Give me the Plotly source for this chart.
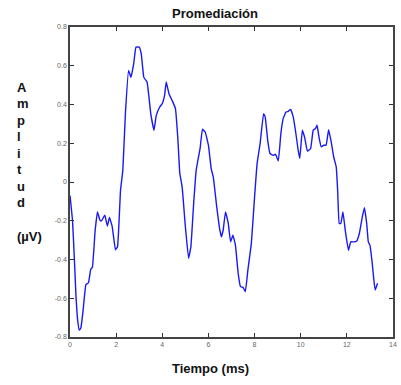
import plotly.graph_objects as go

# Averaged evoked response (time in ms, amplitude in µV)
tiempo_ms = [
    0.00, 0.11, 0.19, 0.26, 0.33, 0.40, 0.47, 0.57, 0.69, 0.80, 0.90, 0.97,
    1.09, 1.19, 1.30, 1.37, 1.51, 1.62, 1.71, 1.83, 1.97, 2.06, 2.19, 2.29,
    2.40, 2.54, 2.64, 2.76, 2.86, 3.00, 3.09, 3.20, 3.34, 3.50, 3.64, 3.74,
    3.89, 4.00, 4.10, 4.17, 4.29, 4.43, 4.57, 4.67, 4.76, 4.86, 5.00, 5.14,
    5.24, 5.36, 5.47, 5.57, 5.64, 5.74, 5.86, 6.00, 6.12, 6.21, 6.36, 6.47,
    6.56, 6.64, 6.74, 6.86, 6.96, 7.06, 7.17, 7.29, 7.39, 7.50, 7.60, 7.71,
    7.86, 8.00, 8.11, 8.24, 8.39, 8.46, 8.57, 8.67, 8.81, 8.91, 9.03, 9.14,
    9.24, 9.36, 9.46, 9.56, 9.67, 9.77, 9.89, 9.96, 10.07, 10.17, 10.29, 10.43,
    10.54, 10.64, 10.71, 10.79, 10.89, 11.00, 11.10, 11.21, 11.31, 11.43, 11.54, 11.60,
    11.67, 11.74, 11.83, 11.93, 12.07, 12.17, 12.29, 12.43, 12.54, 12.67, 12.76, 12.86,
    12.93, 13.00, 13.10, 13.17, 13.23, 13.33,
]
amplitud_uv = [
    -0.07, -0.20, -0.40, -0.59, -0.71, -0.764, -0.754, -0.66, -0.53, -0.52, -0.45, -0.44,
    -0.25, -0.154, -0.197, -0.20, -0.171, -0.228, -0.183, -0.23, -0.35, -0.334, -0.042, 0.06,
    0.35, 0.576, 0.54, 0.61, 0.696, 0.696, 0.66, 0.54, 0.516, 0.353, 0.267, 0.344,
    0.387, 0.405, 0.447, 0.516, 0.456, 0.42, 0.379, 0.233, 0.044, -0.025, -0.23, -0.394,
    -0.334, -0.111, 0.061, 0.129, 0.173, 0.272, 0.258, 0.19, 0.069, 0.026, -0.128, -0.23,
    -0.283, -0.248, -0.154, -0.214, -0.309, -0.274, -0.326, -0.472, -0.54, -0.544, -0.566, -0.455,
    -0.317, -0.077, 0.095, 0.198, 0.353, 0.336, 0.215, 0.147, 0.138, 0.143, 0.109, 0.25,
    0.327, 0.361, 0.365, 0.375, 0.339, 0.267, 0.164, 0.121, 0.267, 0.23, 0.16, 0.173,
    0.267, 0.276, 0.293, 0.233, 0.181, 0.19, 0.19, 0.27, 0.215, 0.129, 0.078, -0.042,
    -0.214, -0.214, -0.154, -0.248, -0.352, -0.309, -0.309, -0.304, -0.266, -0.18, -0.132, -0.214,
    -0.309, -0.326, -0.42, -0.506, -0.558, -0.523,
]

x_ticks = [0, 2, 4, 6, 8, 10, 12, 14]
x_tick_labels = ["0", "2", "4", "6", "8", "10", "12", "14"]
y_ticks = [-0.8, -0.6, -0.4, -0.2, 0, 0.2, 0.4, 0.6, 0.8]
y_tick_labels = ["-0.8", "-0.6", "-0.4", "-0.2", "0", "0.2", "0.4", "0.6", "0.8"]

y_label_lines = ["A", "m", "p", "l", "i", "t", "u", "d", "", "(µV)"]

fig = go.Figure()
fig.add_trace(go.Scatter(
    x=tiempo_ms, y=amplitud_uv, mode="lines",
    line=dict(color="rgb(25,25,245)", width=1.4, shape="spline", smoothing=0.3),
    hoverinfo="skip", showlegend=False,
))

axis_common = dict(
    showline=True, linecolor="#444", linewidth=1.5, mirror="ticks",
    ticks="inside", ticklen=4, tickwidth=1, tickcolor="#333",
    showgrid=False, zeroline=False,
    tickfont=dict(family="Arial, Liberation Sans, sans-serif", size=7, color="#666"),
)

fig.update_xaxes(range=[0, 14], tickvals=x_ticks, ticktext=x_tick_labels, **axis_common)
fig.update_yaxes(range=[-0.8, 0.8], tickvals=y_ticks, ticktext=y_tick_labels, **axis_common)

bold_font = dict(family="Arial, Liberation Sans, sans-serif", size=13, color="#111")

annotations = [
    dict(text="<b>Promediación</b>", x=0.45, y=1.044, xref="paper", yref="paper",
         xanchor="center", yanchor="middle", showarrow=False, font=bold_font),
    dict(text="<b>Tiempo (ms)</b>", x=0.435, y=-0.102, xref="paper", yref="paper",
         xanchor="center", yanchor="middle", showarrow=False, font=bold_font),
]
# Vertical, letter-by-letter y-axis label
for i, ch in enumerate(y_label_lines):
    if not ch:
        continue
    py = 86.7 + i * 16.6
    annotations.append(dict(
        text=f"<b>{ch}</b>", x=(14 - 70) / 326.7, y=(337.3 - py) / 310.8,
        xref="paper", yref="paper", xanchor="left", yanchor="middle",
        showarrow=False, font=bold_font,
    ))

fig.update_layout(
    width=401, height=385,
    margin=dict(l=70, r=4, t=26.5, b=47.7),
    paper_bgcolor="white", plot_bgcolor="white",
    annotations=annotations,
)

fig.write_html("out.html")
